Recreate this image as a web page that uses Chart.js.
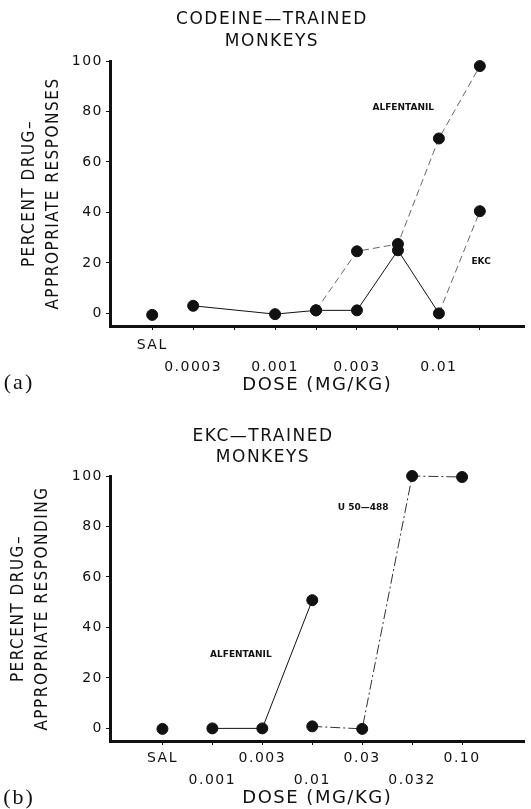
<!DOCTYPE html>
<html>
<head>
<meta charset="utf-8">
<script src="https://cdn.jsdelivr.net/npm/chart.js@4.4.1/dist/chart.umd.min.js"></script>
<style>
  body { margin: 0; background: #fff; }
  .panel { position: absolute; left: 0; }
</style>
</head>
<body>
<div class="panel" style="top:0"><canvas id="chartA" width="531" height="400"></canvas></div>
<div class="panel" style="top:400px"><canvas id="chartB" width="531" height="409"></canvas></div>
<script>
// (a) codeine-trained monkeys
const dosesA = ['SAL', '0.0003', '0.00056', '0.001', '0.0017', '0.003', '0.0056', '0.01', '0.018'];
const tickTopA = ['SAL', '', '', '', '', '', '', '', ''];
const tickBottomA = ['', '0.0003', '', '0.001', '', '0.003', '', '0.01', ''];
const salA = [-0.6, null, null, null, null, null, null, null, null];
const ekcA = [null, 3, null, -0.3, 1.2, 1.2, 25, 0, 40.5];
const alfentanilA = [null, null, null, null, 1.2, 24.6, 27.5, 69.3, 98];

// (b) EKC-trained monkeys
const dosesB = ['SAL', '0.001', '0.003', '0.01', '0.03', '0.032', '0.10'];
const tickTopB = ['SAL', '', '0.003', '', '0.03', '', '0.10'];
const tickBottomB = ['', '0.001', '', '0.01', '', '0.032', ''];
const salB = [-0.2, null, null, null, null, null, null];
const alfentanilB = [null, 0, 0, 50.8, null, null, null];
const u50488B = [null, null, null, 0.8, -0.2, 100, 99.6];

const yTicks = [0, 20, 40, 60, 80, 100];

const INK = '#111';
const FAINT = '#666';

function toPoints(values) {
  return values.map((v, i) => v === null ? null : { x: i, y: v }).filter(p => p);
}

// titles, curve labels and the (a)/(b) tag
const panelText = {
  id: 'panelText',
  beforeDraw(chart) {
    // the old typewriter-style labels are spaced out
    chart.ctx.letterSpacing = '1.5px';
  },
  afterDraw(chart, args, opts) {
    const ctx = chart.ctx;
    const xs = chart.scales.x, ys = chart.scales.y;
    ctx.save();
    ctx.fillStyle = INK;
    ctx.textAlign = 'center';
    ctx.textBaseline = 'middle';
    ctx.letterSpacing = '1.5px';
    ctx.font = '17px "DejaVu Sans"';
    opts.title.forEach((line, i) => ctx.fillText(line, opts.titleX, opts.titleY[i]));
    ctx.letterSpacing = '0px';
    ctx.font = 'bold 9px "DejaVu Sans"';
    opts.notes.forEach(n => ctx.fillText(n.text, xs.getPixelForValue(n.x), ys.getPixelForValue(n.y)));
    ctx.letterSpacing = '2px';
    ctx.font = '22px "Liberation Serif"';
    ctx.fillText(opts.tag, 19, opts.tagY);
    ctx.restore();
  }
};

function pointSet(values, line) {
  return Object.assign({
    data: toPoints(values),
    showLine: true,
    borderColor: INK,
    borderWidth: 1,
    pointRadius: 5.5,
    pointBackgroundColor: INK,
    pointBorderColor: INK,
    pointBorderWidth: 1,
    clip: false
  }, line);
}

function makeChart(id, cfg) {
  const tickFont = { family: '"DejaVu Sans"', size: 14, lineHeight: 1.6 };
  return new Chart(document.getElementById(id), {
    type: 'scatter',
    data: { datasets: cfg.datasets },
    plugins: [panelText],
    options: {
      responsive: false,
      animation: false,
      events: [],
      layout: { padding: { top: cfg.top, left: 0, right: 0, bottom: 0 } },
      plugins: {
        legend: { display: false },
        tooltip: { enabled: false },
        panelText: cfg.text
      },
      scales: {
        x: {
          type: 'linear',
          min: cfg.xMin,
          max: cfg.xMax,
          afterBuildTicks: s => { s.ticks = cfg.doses.map((d, i) => ({ value: i })); },
          afterFit: s => { s.height = cfg.xHeight; },
          grid: { drawOnChartArea: false, tickLength: 4, color: INK },
          border: { color: INK, width: 3 },
          ticks: {
            autoSkip: false,
            maxRotation: 0,
            padding: cfg.xPad,
            color: INK,
            font: tickFont,
            callback: v => [cfg.tickTop[v], cfg.tickBottom[v]]
          },
          title: {
            display: true,
            text: 'DOSE (MG/KG)',
            color: INK,
            font: { family: '"DejaVu Sans"', size: 18, lineHeight: 1.2 },
            padding: { top: 0, bottom: cfg.xTitlePad }
          }
        },
        y: {
          min: -5,
          max: 100,
          afterBuildTicks: s => { s.ticks = yTicks.map(v => ({ value: v })); },
          afterFit: s => { s.width = 110; },
          grid: { drawOnChartArea: false, tickLength: 4, color: INK },
          border: { color: INK, width: 3 },
          ticks: { padding: 3, color: INK, font: { family: '"DejaVu Sans"', size: 14 } },
          title: {
            display: true,
            text: cfg.yTitle,
            color: INK,
            font: { family: '"Liberation Sans Narrow", "DejaVu Sans Condensed", "Liberation Sans"', size: 17, lineHeight: 1.45 },
            padding: { top: cfg.yTitlePad, bottom: 0 }
          }
        }
      }
    }
  });
}

const lastEkc = toPoints(ekcA).length - 1;

makeChart('chartA', {
  doses: dosesA, tickTop: tickTopA, tickBottom: tickBottomA,
  top: 61, xHeight: 74, xPad: 4, xTitlePad: 4, yTitlePad: 17,
  xMin: -1.03, xMax: 9.09,
  yTitle: ['PERCENT DRUG–', 'APPROPRIATE RESPONSES'],
  datasets: [
    pointSet(salA, { showLine: false }),
    pointSet(alfentanilA, { borderColor: FAINT, borderDash: [7, 4] }),
    pointSet(ekcA, {
      segment: {
        borderDash: c => c.p1DataIndex === lastEkc ? [7, 4] : undefined,
        borderColor: c => c.p1DataIndex === lastEkc ? FAINT : undefined
      }
    })
  ],
  text: {
    title: ['CODEINE—TRAINED', 'MONKEYS'], titleX: 272, titleY: [20, 42],
    notes: [{ text: 'ALFENTANIL', x: 6.13, y: 81.4 }, { text: 'EKC', x: 8.03, y: 20.4 }],
    tag: '(a)', tagY: 383
  }
});

makeChart('chartB', {
  doses: dosesB, tickTop: tickTopB, tickBottom: tickBottomB,
  top: 76, xHeight: 68, xPad: 2, xTitlePad: 0, yTitlePad: 6,
  xMin: -1.05, xMax: 7.25,
  yTitle: ['PERCENT DRUG–', 'APPROPRIATE RESPONDING'],
  datasets: [
    pointSet(salB, { showLine: false }),
    pointSet(alfentanilB, {}),
    pointSet(u50488B, { borderColor: '#333', borderDash: [10, 3, 2, 3] })
  ],
  text: {
    title: ['EKC—TRAINED', 'MONKEYS'], titleX: 263, titleY: [37, 58],
    notes: [{ text: 'U 50—488', x: 4.02, y: 87.6 }, { text: 'ALFENTANIL', x: 1.57, y: 29.2 }],
    tag: '(b)', tagY: 398
  }
});
</script>
</body>
</html>
